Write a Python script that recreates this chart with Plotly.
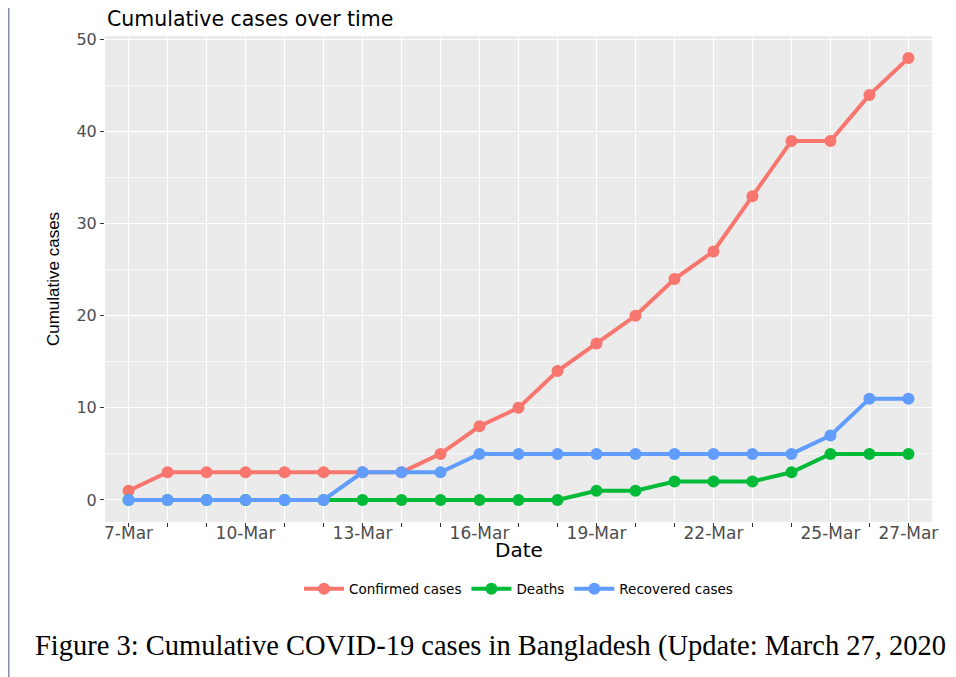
import plotly.graph_objects as go

dates = ["2020-03-%02d" % d for d in range(7, 28)]
confirmed = [1, 3, 3, 3, 3, 3, 3, 3, 5, 8, 10, 14, 17, 20, 24, 27, 33, 39, 39, 44, 48]
deaths = [0, 0, 0, 0, 0, 0, 0, 0, 0, 0, 0, 0, 1, 1, 2, 2, 2, 3, 5, 5, 5]
recovered = [0, 0, 0, 0, 0, 0, 3, 3, 3, 5, 5, 5, 5, 5, 5, 5, 5, 5, 7, 11, 11]
labeled_days = {7: "7-Mar", 10: "10-Mar", 13: "13-Mar", 16: "16-Mar", 19: "19-Mar",
                22: "22-Mar", 25: "25-Mar", 27: "27-Mar"}
tick_text = [labeled_days.get(d, "") for d in range(7, 28)]

series = [("Confirmed cases", confirmed, "#F8766D"),
          ("Deaths", deaths, "#00BA38"),
          ("Recovered cases", recovered, "#619CFF")]

fig = go.Figure()
for name, vals, col in series:
    fig.add_trace(go.Scatter(x=dates, y=vals, name=name, mode="lines+markers",
                             line=dict(color=col, width=4),
                             marker=dict(color=col, size=12)))

# page body has 8px margin; figure placed at (8, 8)
W, H = 948, 669
L, R, T, B = 97, 24, 28, 155
pw = W - L - R
ph = H - T - B
SANS = "DejaVu Sans, Liberation Sans, Arial"

fig.update_layout(
    width=W, height=H,
    margin=dict(l=L, r=R, t=T, b=B),
    paper_bgcolor="white",
    plot_bgcolor="#EBEBEB",
    font=dict(family=SANS, color="#4D4D4D"),
    showlegend=True,
    legend=dict(orientation="h", x=0.5, xanchor="center", y=-(581 - 514) / ph, yanchor="middle",
                font=dict(size=13.5, color="black", family=SANS), itemwidth=40,
                bgcolor="rgba(0,0,0,0)"),
    xaxis=dict(
        type="date",
        range=["2020-03-06 09:30", "2020-03-27 14:30"],
        tickmode="array", tickvals=dates, ticktext=tick_text,
        ticks="outside", ticklen=4, tickcolor="#333333", tickwidth=1,
        ticklabelstandoff=-8,
        showgrid=True, gridcolor="white", gridwidth=1.3,
        zeroline=False, showline=False,
        tickfont=dict(size=17, color="#4D4D4D", family=SANS),
    ),
    yaxis=dict(
        range=[-2.4, 50.4],
        tickmode="array", tickvals=[0, 10, 20, 30, 40, 50],
        ticks="outside", ticklen=4, tickcolor="#333333", tickwidth=1,
        showgrid=True, gridcolor="white", gridwidth=1.3,
        minor=dict(tickvals=[5, 15, 25, 35, 45], showgrid=True, gridcolor="#F7F7F7", gridwidth=0.6),
        zeroline=False, showline=False,
        tickfont=dict(size=16, color="#4D4D4D", family=SANS),
        title=dict(text="Cumulative cases", font=dict(size=17, color="black",
                   family="Liberation Sans Narrow, Liberation Sans"), standoff=12),
    ),
)

fig.add_annotation(text="Date", xref="paper", yref="paper",
                   x=0.5, y=-(542 - 514) / ph, xanchor="center", yanchor="middle",
                   showarrow=False, font=dict(size=20, color="black", family=SANS))

fig.add_annotation(text="Cumulative cases over time", xref="paper", yref="paper",
                   x=0, y=1 + 17 / ph, xanchor="left", yanchor="middle",
                   showarrow=False, font=dict(size=20.5, color="black", family=SANS))

fig.add_annotation(text="Figure 3: Cumulative COVID-19 cases in Bangladesh (Update: March 27, 2020",
                   xref="paper", yref="paper",
                   x=(25 - L) / pw, y=-(638 - 514) / ph, xanchor="left", yanchor="middle",
                   showarrow=False,
                   font=dict(size=28.5, color="black", family="Liberation Serif, DejaVu Serif"))

fig.add_shape(type="line", xref="paper", yref="paper",
              x0=(0.75 - L) / pw, x1=(0.75 - L) / pw, y0=-B / ph - 0.01, y1=1 + T / ph + 0.01,
              line=dict(color="#7F8FA6", width=1.5))

fig.write_html("out.html")
